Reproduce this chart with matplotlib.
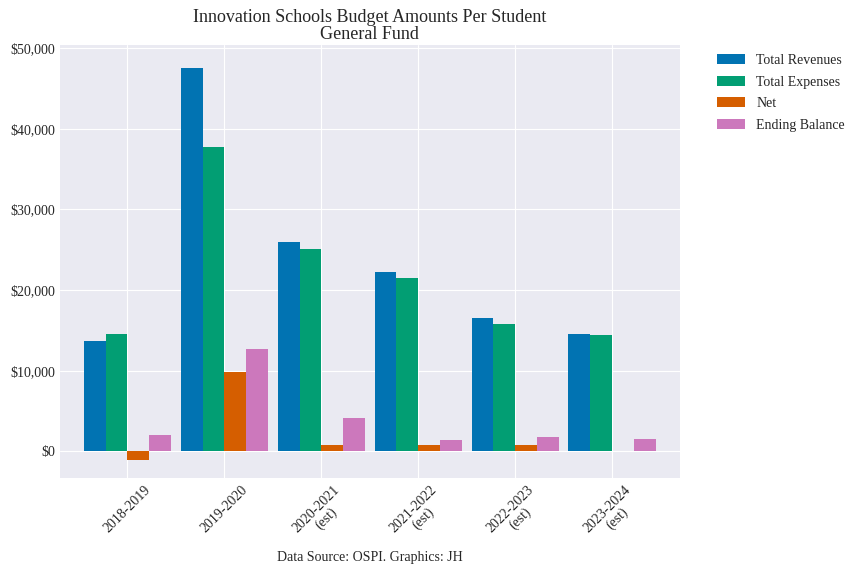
import matplotlib
matplotlib.use('Agg')
import matplotlib.pyplot as plt
import numpy as np
from matplotlib.ticker import FuncFormatter

# data
years = ['2018-2019', '2019-2020', '2020-2021\n(est)', '2021-2022\n(est)',
         '2022-2023\n(est)', '2023-2024\n(est)']
total_revenues = [13700, 47600, 26000, 22300, 16600, 14600]
total_expenses = [14600, 37700, 25100, 21500, 15800, 14500]
net = [-1000, 9900, 750, 750, 750, 0]
ending_balance = [2000, 12700, 4100, 1400, 1750, 1500]

series_names = ['Total Revenues', 'Total Expenses', 'Net', 'Ending Balance']
series = [total_revenues, total_expenses, net, ending_balance]
colors = ['#0173B2', '#029E73', '#D55E00', '#CC78BC']

plt.style.use('seaborn-v0_8-darkgrid')
plt.rcParams['font.family'] = ['Liberation Serif', 'DejaVu Serif']

fig = plt.figure(figsize=(8.64, 5.76), dpi=100)
ax = fig.add_axes([0.069, 0.170, 0.718, 0.752])

x = np.arange(len(years))
width = 0.225
for i, (name, vals) in enumerate(zip(series_names, series)):
    offset = (i - 1.5) * width
    ax.bar(x + offset, vals, width, label=name, color=colors[i])

ax.set_xlim(-0.7, len(years) - 0.3)
ax.set_ylim(-3300, 50400)
ax.set_yticks(np.arange(0, 50001, 10000))
ax.yaxis.set_major_formatter(FuncFormatter(lambda v, p: '${:,.0f}'.format(v)))
ax.set_xticks(x)
ax.set_xticklabels(years, rotation=45, fontsize=10, linespacing=1.1)
ax.tick_params(axis='y', labelsize=10)

ax.set_title('Innovation Schools Budget Amounts Per Student\nGeneral Fund',
             fontsize=13, linespacing=1.05, pad=4)
ax.set_xlabel('Data Source: OSPI. Graphics: JH', fontsize=10, labelpad=4)

ax.legend(loc='upper left', bbox_to_anchor=(1.04, 1.008), fontsize=10,
          frameon=False, labelspacing=0.62)

plt.savefig('out.png', dpi=100)
